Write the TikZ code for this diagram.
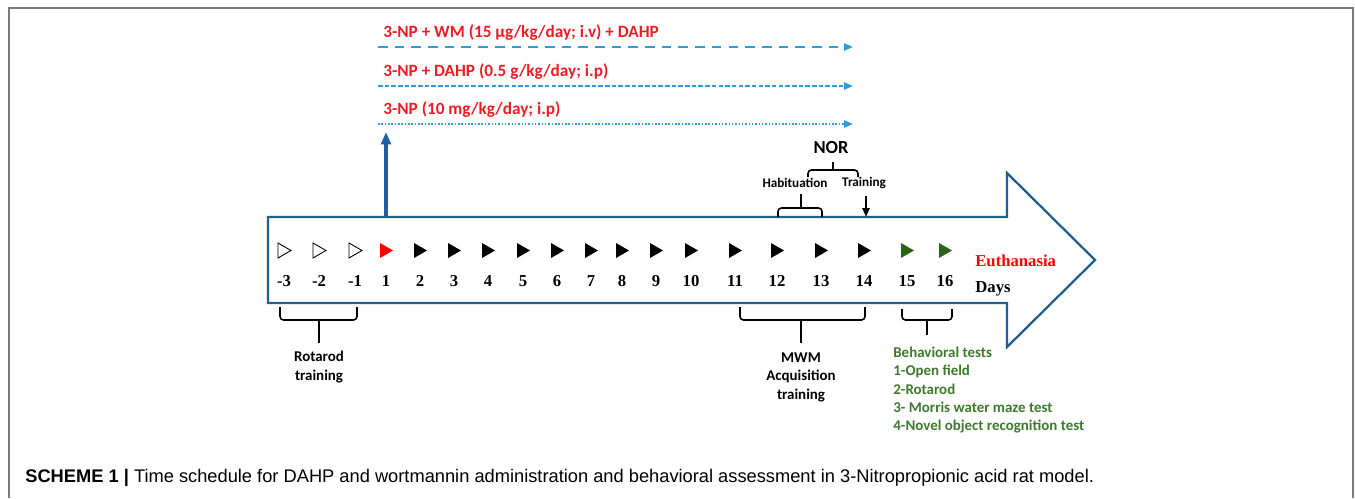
\documentclass[tikz,border=0pt]{standalone}
\usepackage{fontspec}
\setmainfont{Liberation Serif}
\setsansfont{Liberation Sans}
\newfontfamily\labelfont{Carlito}
\usetikzlibrary{arrows.meta}

\definecolor{framegray}{HTML}{7A7A7A}
\definecolor{arrowblue}{HTML}{1F5F8B}
\definecolor{upblue}{HTML}{1F5FA8}
\definecolor{lineblue}{HTML}{2E9BDB}
\definecolor{labelred}{HTML}{EE1C25}
\definecolor{testgreen}{HTML}{3B7A2B}
\definecolor{trigreen}{HTML}{2A6418}

\begin{document}
\begin{tikzpicture}[x=0.02cm,y=-0.02cm]
\tikzstyle{every node}+=[inner sep=0pt]
\tikzstyle{daynum}=[font=\fontsize{9.5}{11}\selectfont\bfseries]
\tikzstyle{druglabel}=[anchor=west, text=labelred, font=\labelfont\fontsize{9.8}{11}\selectfont\bfseries]
\tikzstyle{calib}=[font=\labelfont\fontsize{8.5}{10.5}\selectfont\bfseries, align=center]
\tikzstyle{small}=[font=\labelfont\fontsize{7.5}{9}\selectfont\bfseries]
\tikzstyle{bracket}=[black, line width=0.9pt, rounded corners=2pt]
\tikzstyle{schedule}=[lineblue, line width=1.1pt, -{Triangle[length=5pt,width=4pt]}]
\tikzstyle{opentri}=[draw=black, fill=white, line width=0.5pt]
\tikzstyle{redtri}=[fill=red]
\tikzstyle{blacktri}=[fill=black]
\tikzstyle{greentri}=[fill=trigreen]
\useasboundingbox (0,0) rectangle (1355,498);
% outer frame, open at the bottom
\draw [framegray, line width=1pt] (9,498) -- (9,8) -- (1353,8) -- (1353,498);
% time line arrow
\draw [arrowblue, line width=1.3pt] (268,217) -- (1007,217) -- (1007,173) -- (1095,260)
  -- (1007,347) -- (1007,303) -- (268,303) -- cycle;
% days
\foreach \d/\x/\c in {-3/284/opentri,-2/319/opentri,-1/355/opentri,1/386/redtri,
  2/420/blacktri,3/454/blacktri,4/488/blacktri,5/523/blacktri,6/557/blacktri,
  7/591/blacktri,8/622/blacktri,9/656/blacktri,10/691/blacktri,11/735/blacktri,
  12/777/blacktri,13/821/blacktri,14/864/blacktri,15/907/greentri,16/945/greentri}
{
  \node [daynum] (n\d) at (\x,281) {\d};
  \path [\c] (\x-6,243) -- (\x+7,250.5) -- (\x-6,258) -- cycle;
}
\node [anchor=west, text=red, font=\fontsize{9.5}{11}\selectfont\bfseries] (euth) at (975,261) {Euthanasia};
\node [anchor=west, font=\fontsize{9.5}{11}\selectfont\bfseries] (days) at (975,289) {Days};
% treatment start
\coordinate (up0) at (386,216);
\coordinate (up1) at (386,132);
\draw [upblue, line width=1.8pt, -{Triangle[length=7pt,width=5.5pt]}] (up0) -- (up1);
\node [druglabel] (lblwm) at (383,33) {3-NP + WM (15 µg/kg/day; i.v) + DAHP};
\node [druglabel] (lbldahp) at (383,72) {3-NP + DAHP (0.5 g/kg/day; i.p)};
\node [druglabel] (lblnp) at (383,110) {3-NP (10 mg/kg/day; i.p)};
\coordinate (s1) at (378,47);  \coordinate (e1) at (853,47);
\coordinate (s2) at (378,86);  \coordinate (e2) at (853,86);
\coordinate (s3) at (378,124); \coordinate (e3) at (853,124);
\draw [schedule, dash pattern=on 5.5pt off 4pt] (s1) -- (e1);
\draw [schedule, dash pattern=on 2.6pt off 1.2pt] (s2) -- (e2);
\draw [schedule, dash pattern=on 0.9pt off 1pt] (s3) -- (e3);
% NOR
\node [font=\labelfont\fontsize{10.5}{12}\selectfont\bfseries] (nor) at (831,148) {NOR};
\draw [bracket] (808,177) -- (808,170) -- (858,170) -- (858,177);
\draw [bracket] (833,170) -- (833,162);
\node [small] (hab) at (795,183) {Habituation};
\node [small] (trn) at (864,183) {Training};
\draw [bracket] (778,217) -- (778,208) -- (822,208) -- (822,217);
\draw [bracket] (801,208) -- (801,194);
\coordinate (trn0) at (866,196);
\coordinate (trn1) at (866,217);
\draw [black, line width=1.2pt, -{Triangle[length=5pt,width=4pt]}] (trn0) -- (trn1);
% brackets below the time line
\draw [bracket] (280,307) -- (280,320) -- (357,320) -- (357,307);
\draw [bracket] (319,320) -- (319,343);
\node [calib] (rota) at (319,367) {Rotarod\\training};
\draw [bracket] (740,307) -- (740,320) -- (865,320) -- (865,307);
\draw [bracket] (801,320) -- (801,343);
\node [calib] (mwm) at (801,377) {MWM\\Acquisition\\training};
\draw [bracket] (902,309) -- (902,320) -- (952,320) -- (952,309);
\draw [bracket] (927,320) -- (927,335);
\node [calib, align=left, anchor=north west, text=testgreen, font=\labelfont\fontsize{8.5}{10.3}\selectfont\bfseries]
  (tests) at (893,347) {Behavioral tests\\1-Open field\\2-Rotarod\\3- Morris water maze test\\4-Novel object recognition test};
% caption
\node [anchor=west, font=\sffamily\fontsize{10.4}{12}\selectfont] (cap) at (25,478)
  {\textbf{SCHEME 1 |} Time schedule for DAHP and wortmannin administration and behavioral assessment in 3-Nitropropionic acid rat model.};
\end{tikzpicture}
\end{document}
